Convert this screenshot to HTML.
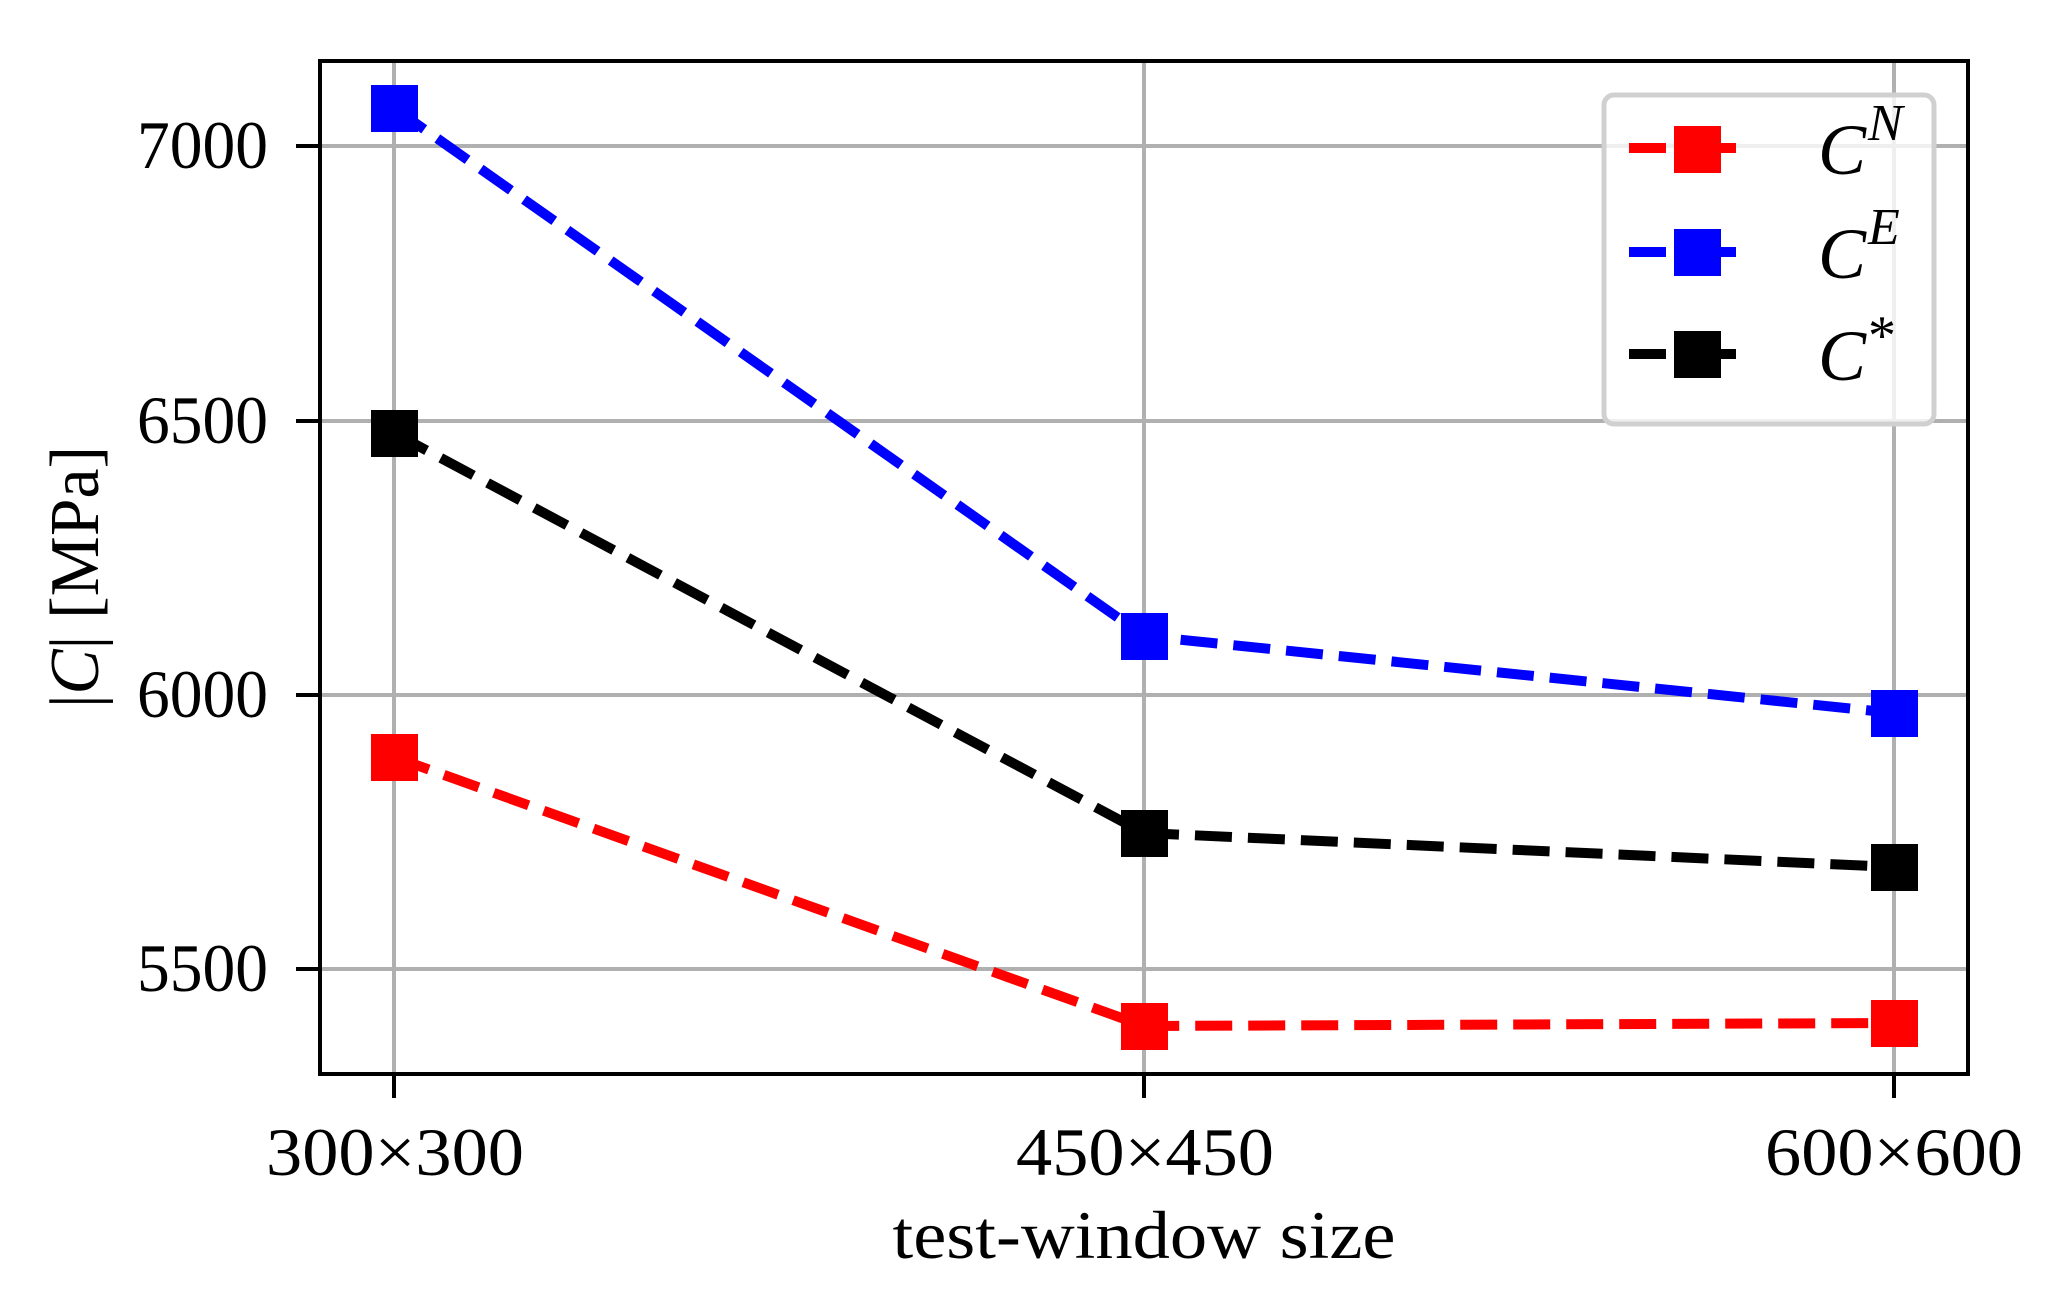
<!DOCTYPE html>
<html><head><meta charset="utf-8"><style>
html,body{margin:0;padding:0;background:#fff;}
svg{display:block;}
text{font-family:"Liberation Serif",serif;fill:#000;}
</style></head><body>
<svg width="2062" height="1299" viewBox="0 0 2062 1299" xmlns="http://www.w3.org/2000/svg">
<rect width="2062" height="1299" fill="#fff"/>
<g stroke="#b0b0b0" stroke-width="4">
<line x1="394" y1="61" x2="394" y2="1074"/>
<line x1="1144" y1="61" x2="1144" y2="1074"/>
<line x1="1894" y1="61" x2="1894" y2="1074"/>
<line x1="320" y1="146" x2="1968" y2="146"/>
<line x1="320" y1="421" x2="1968" y2="421"/>
<line x1="320" y1="695" x2="1968" y2="695"/>
<line x1="320" y1="969" x2="1968" y2="969"/>
</g>
<g fill="none" stroke-width="10" stroke-dasharray="37 16">
<polyline stroke="#ff0000" points="394,757 1144,1026 1894,1023"/>
<polyline stroke="#0000ff" points="394,108 1144,636 1894,713"/>
<polyline stroke="#000000" points="394,433 1144,833 1894,867"/>
</g>
<g>
<rect x="371" y="734" width="47" height="47" fill="#ff0000"/>
<rect x="1121" y="1003" width="47" height="47" fill="#ff0000"/>
<rect x="1871" y="1000" width="47" height="47" fill="#ff0000"/>
<rect x="371" y="85" width="47" height="47" fill="#0000ff"/>
<rect x="1121" y="613" width="47" height="47" fill="#0000ff"/>
<rect x="1871" y="690" width="47" height="47" fill="#0000ff"/>
<rect x="371" y="410" width="47" height="47" fill="#000"/>
<rect x="1121" y="810" width="47" height="47" fill="#000"/>
<rect x="1871" y="844" width="47" height="47" fill="#000"/>
</g>
<rect x="320" y="61" width="1648" height="1013" fill="none" stroke="#000" stroke-width="4"/>
<g stroke="#000" stroke-width="4">
<line x1="296" y1="146" x2="320" y2="146"/>
<line x1="296" y1="421" x2="320" y2="421"/>
<line x1="296" y1="695" x2="320" y2="695"/>
<line x1="296" y1="969" x2="320" y2="969"/>
<line x1="394" y1="1074" x2="394" y2="1098"/>
<line x1="1144" y1="1074" x2="1144" y2="1098"/>
<line x1="1894" y1="1074" x2="1894" y2="1098"/>
</g>
<g font-size="68" text-anchor="end">
<text x="268" y="168" textLength="131" lengthAdjust="spacingAndGlyphs">7000</text>
<text x="268" y="443" textLength="131" lengthAdjust="spacingAndGlyphs">6500</text>
<text x="268" y="717" textLength="131" lengthAdjust="spacingAndGlyphs">6000</text>
<text x="268" y="991" textLength="131" lengthAdjust="spacingAndGlyphs">5500</text>
</g>
<g font-size="68" text-anchor="middle">
<text x="395" y="1175" textLength="258" lengthAdjust="spacingAndGlyphs">300×300</text>
<text x="1145" y="1175" textLength="258" lengthAdjust="spacingAndGlyphs">450×450</text>
<text x="1894" y="1175" textLength="258" lengthAdjust="spacingAndGlyphs">600×600</text>
<text x="1144" y="1258" textLength="503" lengthAdjust="spacingAndGlyphs">test-window size</text>
</g>
<text font-size="70" text-anchor="middle" transform="translate(98,577) rotate(-90)" textLength="262" lengthAdjust="spacingAndGlyphs">|<tspan font-style="italic">C</tspan>| [MPa]</text>
<rect x="1604" y="95" width="330" height="329" rx="10" fill="#fff" fill-opacity="0.8" stroke="#d0d0d0" stroke-width="5"/>
<g stroke-width="10" stroke-dasharray="37 33">
<line x1="1629" y1="148" x2="1766" y2="148" stroke="#ff0000"/>
<line x1="1629" y1="252" x2="1766" y2="252" stroke="#0000ff"/>
<line x1="1629" y1="354" x2="1766" y2="354" stroke="#000"/>
</g>
<rect x="1674" y="126" width="47" height="47" fill="#ff0000"/>
<rect x="1674" y="229" width="47" height="47" fill="#0000ff"/>
<rect x="1674" y="331" width="47" height="47" fill="#000"/>
<g font-size="72" font-style="italic">
<text x="1818" y="174">C<tspan font-size="52" dx="2" dy="-34">N</tspan></text>
<text x="1818" y="278">C<tspan font-size="52" dx="2" dy="-34">E</tspan></text>
<text x="1818" y="380">C<tspan font-size="56" dx="2" dy="-26" font-style="normal">*</tspan></text>
</g>
</svg>
</body></html>
